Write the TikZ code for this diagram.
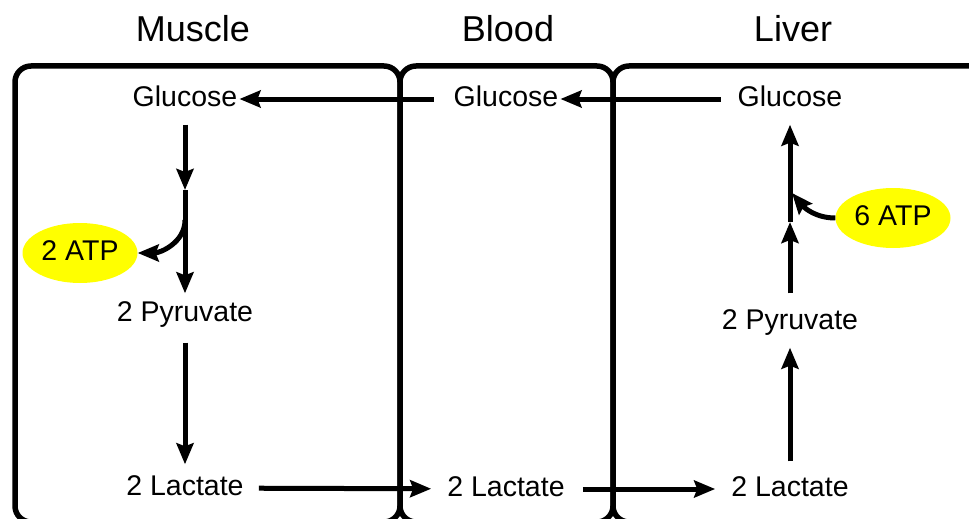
\documentclass[tikz,border=0pt]{standalone}
\usepackage{fontspec}
\setmainfont{Liberation Sans}
\usepackage{tikz}
\usetikzlibrary{arrows.meta,shapes.geometric}
\definecolor{atpyellow}{rgb}{1.0,1.0,0.0}

\tikzset{
  compart/.style={line width=5.5pt, rounded corners=16pt},
  heading/.style={font=\fontsize{36}{40}\selectfont, text height=26pt, text depth=0pt},
  metab/.style={font=\fontsize{28.5}{30}\selectfont, inner sep=2pt, text height=21pt, text depth=6pt},
  atp/.style={metab, ellipse, fill=atpyellow, minimum width=115pt, minimum height=60pt, inner sep=0pt},
  flow/.style={line width=5pt, -{Stealth[length=21pt,width=17pt,inset=3pt]}}
}

\begin{document}
\begin{tikzpicture}[x=1pt, y=-1pt]
                \useasboundingbox (0,0) rectangle (969,519);
                \clip (0,0) rectangle (969,519);

                % 1. Draw the three compartments
                \draw[compart] (15,66) rectangle (400,522);
                \draw[compart] (400,66) rectangle (613,522);
                \draw[compart] (613,66) rectangle (995,522);

                \node[heading] (muscle) at (193,29) {Muscle};
                \node[heading] (blood) at (508,29) {Blood};
                \node[heading] (liver) at (793,29) {Liver};

                % 2. Metabolites
                \node[metab] (mglu) at (185,99) {Glucose};
                \node[metab] (mpyr) at (185,314) {2 Pyruvate};
                \node[metab] (mlac) at (185,488) {2 Lactate};
                \node[metab] (bglu) at (506,99) {Glucose};
                \node[metab] (blac) at (506,489) {2 Lactate};
                \node[metab] (lglu) at (790,99) {Glucose};
                \node[metab] (lpyr) at (790,322) {2 Pyruvate};
                \node[metab] (llac) at (790,489) {2 Lactate};

                \node[atp] (matp) at (80,253) {2 ATP};
                \node[atp] (latp) at (893,218) {6 ATP};

                \coordinate (mfork) at (185,190);
                \coordinate (mbranch) at (185,220);
                \coordinate (lfork) at (790,222);
                \coordinate (ljoin) at (792,193);

                % 3. Arrows
                \draw[flow, shorten <=10pt] (mglu) -- (mfork);
                \draw[flow, shorten >=5pt] (mfork) -- (mpyr);
                \draw[flow] (mbranch) to[out=-90, in=0] (matp.east);
                \draw[flow, shorten <=13pt, shorten >=8pt] (mpyr) -- (mlac);
                \draw[flow, shorten <=13pt, shorten >=14pt] (mlac) -- (blac);
                \draw[flow, shorten <=16pt, shorten >=14pt] (blac) -- (llac);

                \draw[flow, shorten <=15pt] (lglu) -- (bglu);
                \draw[flow, shorten <=18pt] (bglu) -- (mglu);

                \draw[flow, shorten <=12pt, shorten >=10pt] (llac) -- (lpyr);
                \draw[flow, shorten <=13pt] (lpyr) -- (lfork);
                \draw[flow, shorten >=10pt] (lfork) -- (lglu);
                \draw[flow] (latp.west) to[out=180, in=-50] (ljoin);
            \end{tikzpicture}
\end{document}
